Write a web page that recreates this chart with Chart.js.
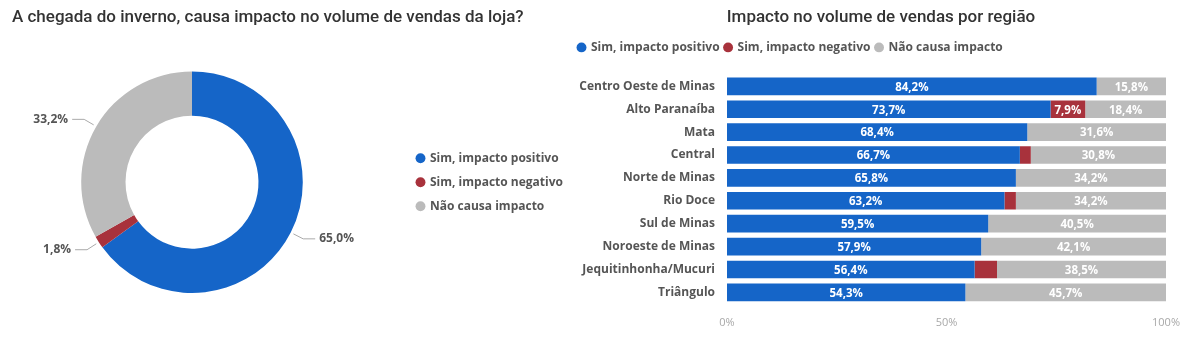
<!DOCTYPE html>
<html lang="pt-BR">
<head>
<meta charset="utf-8">
<title>Impacto do inverno nas vendas</title>
<script src="https://cdn.jsdelivr.net/npm/chart.js@4"></script>
<style>
  html, body { margin: 0; padding: 0; background: #fff; }
  body { width: 1192px; height: 348px; position: relative; overflow: hidden; }
  #boxDonut { position: absolute; left: 0; top: 0; }
  #boxBarras { position: absolute; left: 570px; top: 0; }
</style>
</head>
<body>
<div id="boxDonut"><canvas id="donutChart" width="570" height="348"></canvas></div>
<div id="boxBarras"><canvas id="barChart" width="622" height="348"></canvas></div>

<script>
// Respostas gerais (%)
const respostas = ["Sim, impacto positivo", "Sim, impacto negativo", "Não causa impacto"];
const totalGeral = [65.0, 1.8, 33.2];

// Por região (%)
const regioes = [
  "Centro Oeste de Minas", "Alto Paranaíba", "Mata", "Central", "Norte de Minas",
  "Rio Doce", "Sul de Minas", "Noroeste de Minas", "Jequitinhonha/Mucuri", "Triângulo"
];
const positivo = [84.2, 73.7, 68.4, 66.7, 65.8, 63.2, 59.5, 57.9, 56.4, 54.3];
const negativo = [0, 7.9, 0, 2.5, 0, 2.6, 0, 0, 5.1, 0];
const semImpacto = [15.8, 18.4, 31.6, 30.8, 34.2, 34.2, 40.5, 42.1, 38.5, 45.7];
const ticksX = [0, 50, 100];

const cores = ["#1565c8", "#a8323c", "#bbbbbb"];
const fonte = "'Open Sans', sans-serif";
const fonteTitulo = "Roboto, sans-serif";

const fmt = v => v.toFixed(1).replace(".", ",") + "%";

// rótulos externos da rosca com linha guia
const rotulosExternos = {
  id: "rotulosExternos",
  afterDatasetsDraw(chart) {
    const ctx = chart.ctx;
    const meta = chart.getDatasetMeta(0);
    const dados = chart.data.datasets[0].data;
    ctx.save();
    ctx.font = "bold 12px " + fonte;
    ctx.textBaseline = "middle";
    meta.data.forEach((arc, i) => {
      const p = arc.getProps(["x", "y", "startAngle", "endAngle", "outerRadius"], true);
      const meio = (p.startAngle + p.endAngle) / 2;
      const cos = Math.cos(meio), sin = Math.sin(meio);
      const x0 = p.x + cos * (p.outerRadius + 3), y0 = p.y + sin * (p.outerRadius + 3);
      const x1 = p.x + cos * (p.outerRadius + 14), y1 = p.y + sin * (p.outerRadius + 14);
      const dir = cos >= 0 ? 1 : -1;
      const x2 = x1 + dir * 12;
      ctx.strokeStyle = "#aaaaaa";
      ctx.lineWidth = 1;
      ctx.beginPath();
      ctx.moveTo(x0, y0);
      ctx.lineTo(x1, y1);
      ctx.lineTo(x2, y1);
      ctx.stroke();
      ctx.fillStyle = "#555555";
      ctx.textAlign = dir > 0 ? "left" : "right";
      ctx.fillText(fmt(dados[i]), x2 + dir * 4, y1);
    });
    ctx.restore();
  }
};

// a legenda reserva 190px à direita, mas fica desenhada mais perto do centro
const legendaLateral = {
  id: "legendaLateral",
  beforeInit(chart) {
    const fitOriginal = chart.legend.fit;
    chart.legend.fit = function () {
      fitOriginal.bind(chart.legend)();
      this.width = 190;
    };
  },
  afterLayout(chart) {
    const lg = chart.legend;
    const dx = 405 - lg.left;
    lg.left += dx;
    lg.right += dx;
  }
};

new Chart(document.getElementById("donutChart"), {
  type: "doughnut",
  data: {
    labels: respostas,
    datasets: [{
      data: totalGeral,
      backgroundColor: cores,
      borderWidth: 0
    }]
  },
  options: {
    responsive: false,
    animation: false,
    cutout: "60%",
    layout: { padding: { left: 12, right: 8, top: 0, bottom: 55 } },
    plugins: {
      title: {
        display: true,
        text: "A chegada do inverno, causa impacto no volume de vendas da loja?",
        align: "start",
        color: "#333333",
        font: { family: fonteTitulo, size: 17, weight: "500" },
        padding: { top: 8, bottom: 43 }
      },
      legend: {
        position: "right",
        fullSize: false,
        labels: {
          usePointStyle: true,
          pointStyle: "circle",
          boxWidth: 7,
          boxHeight: 7,
          padding: 12,
          color: "#555555",
          font: { family: fonte, size: 12, weight: "bold" }
        }
      },
      tooltip: { enabled: false }
    }
  },
  plugins: [rotulosExternos, legendaLateral]
});

// valores dentro das barras
const rotulosBarras = {
  id: "rotulosBarras",
  afterDatasetsDraw(chart) {
    const ctx = chart.ctx;
    ctx.save();
    ctx.font = "bold 11.5px " + fonte;
    ctx.textAlign = "center";
    ctx.textBaseline = "middle";
    ctx.fillStyle = "#ffffff";
    chart.data.datasets.forEach((ds, d) => {
      chart.getDatasetMeta(d).data.forEach((bar, i) => {
        const v = ds.data[i];
        const p = bar.getProps(["x", "y", "base"], true);
        if (!v || Math.abs(p.x - p.base) < 30) return;
        ctx.fillText(fmt(v), (p.x + p.base) / 2, p.y + 1);
      });
    });
    ctx.restore();
  }
};

// espaço extra abaixo da legenda; título centrado na largura toda do canvas
const ajusteTopo = {
  id: "ajusteTopo",
  beforeInit(chart) {
    const fitOriginal = chart.legend.fit;
    chart.legend.fit = function () {
      fitOriginal.bind(chart.legend)();
      this.height += 11.5;
    };
  },
  afterLayout(chart) {
    const t = chart.titleBlock;
    t.left = 0;
    t.right = chart.width;
    t.width = chart.width;
  }
};

const serie = (label, data, cor) => ({
  label, data,
  backgroundColor: cor,
  borderWidth: 0,
  barPercentage: 0.77,
  categoryPercentage: 1
});

new Chart(document.getElementById("barChart"), {
  type: "bar",
  data: {
    labels: regioes,
    datasets: [
      serie(respostas[0], positivo, cores[0]),
      serie(respostas[1], negativo, cores[1]),
      serie(respostas[2], semImpacto, cores[2])
    ]
  },
  options: {
    indexAxis: "y",
    responsive: false,
    animation: false,
    layout: { padding: { left: 3, right: 23, top: 0, bottom: 7 } },
    scales: {
      x: {
        stacked: true,
        min: 0,
        max: 100,
        afterBuildTicks: s => { s.ticks = ticksX.map(v => ({ value: v })); },
        grid: { display: false, drawTicks: false },
        border: { display: false },
        ticks: {
          padding: 12,
          color: "#a8a8a8",
          font: { family: fonte, size: 11 },
          callback: v => v + "%"
        }
      },
      y: {
        stacked: true,
        afterFit: s => { s.width = 154; },
        grid: { display: false, drawTicks: false },
        border: { display: false },
        ticks: {
          padding: 12,
          color: "#555555",
          font: { family: fonte, size: 12, weight: "bold" }
        }
      }
    },
    plugins: {
      title: {
        display: true,
        text: "Impacto no volume de vendas por região",
        color: "#333333",
        font: { family: fonteTitulo, size: 17, weight: "500" },
        padding: { top: 8, bottom: 8 }
      },
      legend: {
        position: "top",
        align: "start",
        labels: {
          usePointStyle: true,
          pointStyle: "circle",
          boxWidth: 7,
          boxHeight: 7,
          padding: 5,
          color: "#555555",
          font: { family: fonte, size: 12, weight: "bold" }
        }
      },
      tooltip: { enabled: false }
    }
  },
  plugins: [rotulosBarras, ajusteTopo]
});
</script>
</body>
</html>
